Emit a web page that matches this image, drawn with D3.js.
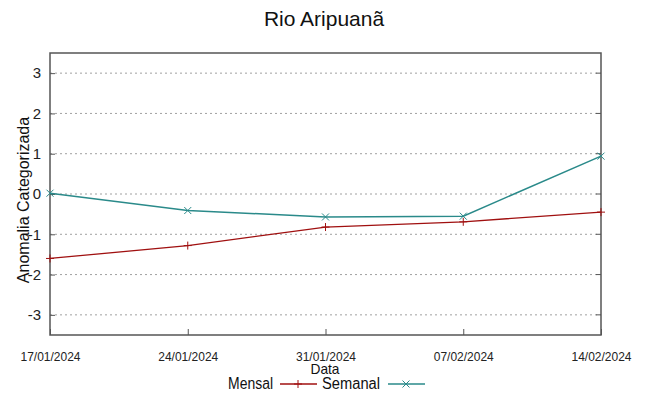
<!DOCTYPE html>
<html><head><meta charset="utf-8">
<script src="https://cdn.jsdelivr.net/npm/d3@7"></script>
<style>body{margin:0;background:#fff}svg{display:block}</style>
</head><body><svg id="c" width="649" height="396"></svg>
<script>
const dates = ["17/01/2024","24/01/2024","31/01/2024","07/02/2024","14/02/2024"];
const mensal = [-1.6, -1.28, -0.82, -0.69, -0.45];
const semanal = [0.02, -0.41, -0.57, -0.55, 0.94];
const yTicks = [-3,-2,-1,0,1,2,3];

const svg = d3.select("#c");
const m = {l:50, r:601, t:53, b:335};
const parse = d3.timeParse("%d/%m/%Y");
const xd = dates.map(parse);
const x = d3.scaleTime().domain([xd[0], xd[xd.length-1]]).range([m.l, m.r]);
const y = d3.scaleLinear().domain([-3.5,3.5]).range([m.b, m.t]);
const font = "Liberation Sans, Arial, sans-serif";

// grid
svg.append("g").selectAll("line").data(yTicks).join("line")
  .attr("x1", m.l).attr("x2", m.r).attr("y1", d=>y(d)).attr("y2", d=>y(d))
  .attr("stroke","#a0a0a0").attr("stroke-width",1).attr("stroke-dasharray","2,3");

// y axis
const ya = svg.append("g").attr("transform",`translate(${m.l},0)`)
  .call(d3.axisLeft(y).tickValues(yTicks).tickSize(-5).tickPadding(9).tickFormat(d=>String(d)));
ya.select(".domain").remove();
ya.selectAll("line").attr("stroke","#555");
ya.selectAll("text").attr("font-family",font).attr("font-size",15).attr("fill","#222");
// right ticks
svg.append("g").selectAll("line").data(yTicks).join("line")
  .attr("x1", m.r-5).attr("x2", m.r).attr("y1", d=>y(d)).attr("y2", d=>y(d)).attr("stroke","#555");

// x axis
const xa = svg.append("g").attr("transform",`translate(0,${m.b})`)
  .call(d3.axisBottom(x).tickValues(xd).tickSize(-6).tickPadding(17).tickFormat(d3.timeFormat("%d/%m/%Y")));
xa.select(".domain").remove();
xa.selectAll("line").attr("stroke","#555");
xa.selectAll("text").attr("font-family",font).attr("font-size",13).attr("fill","#222")
  .attr("textLength",60).attr("lengthAdjust","spacingAndGlyphs");

// frame
svg.append("rect").attr("x",m.l).attr("y",m.t).attr("width",m.r-m.l).attr("height",m.b-m.t)
  .attr("fill","none").attr("stroke","#555").attr("stroke-width",1.5);

const line = d3.line().x((d,i)=>x(xd[i])).y(d=>y(d));
const red = "#a01010", teal = "#2a8a8a";
svg.append("path").datum(mensal).attr("d",line).attr("fill","none").attr("stroke",red).attr("stroke-width",1.3);
svg.append("path").datum(semanal).attr("d",line).attr("fill","none").attr("stroke",teal).attr("stroke-width",1.5);

function plus(g,cx,cy,c){g.append("path").attr("d",`M${cx-4},${cy}H${cx+4}M${cx},${cy-4}V${cy+4}`).attr("stroke",c).attr("stroke-width",1);}
function cross(g,cx,cy,c){g.append("path").attr("d",`M${cx-3.5},${cy-3.5}L${cx+3.5},${cy+3.5}M${cx-3.5},${cy+3.5}L${cx+3.5},${cy-3.5}`).attr("stroke",c).attr("stroke-width",1);}
const mk = svg.append("g");
mensal.forEach((v,i)=>plus(mk,x(xd[i]),y(v),red));
semanal.forEach((v,i)=>cross(mk,x(xd[i]),y(v),teal));

// title
svg.append("text").attr("x",324).attr("y",26).attr("text-anchor","middle")
  .attr("font-family",font).attr("font-size",21).attr("fill","#111").text("Rio Aripuanã");
// y label
svg.append("text").attr("transform","translate(29,200) rotate(-90)").attr("text-anchor","middle")
  .attr("font-family",font).attr("font-size",16).attr("fill","#111").text("Anomalia Categorizada");
// x label
svg.append("text").attr("x",325).attr("y",374).attr("text-anchor","middle")
  .attr("font-family",font).attr("font-size",15).attr("fill","#111")
  .attr("textLength",29).attr("lengthAdjust","spacingAndGlyphs").text("Data");
// legend
const lg = svg.append("g").attr("font-family",font).attr("font-size",16).attr("fill","#111");
lg.append("text").attr("x",273).attr("y",389).attr("text-anchor","end").attr("textLength",45).attr("lengthAdjust","spacingAndGlyphs").text("Mensal");
lg.append("line").attr("x1",280).attr("x2",317).attr("y1",384).attr("y2",384).attr("stroke",red).attr("stroke-width",1.3);
plus(lg,298,384,red);
lg.append("text").attr("x",380).attr("y",389).attr("text-anchor","end").attr("textLength",58).attr("lengthAdjust","spacingAndGlyphs").text("Semanal");
lg.append("line").attr("x1",388).attr("x2",425).attr("y1",384).attr("y2",384).attr("stroke",teal).attr("stroke-width",1.3);
cross(lg,406,384,teal);
</script></body></html>
